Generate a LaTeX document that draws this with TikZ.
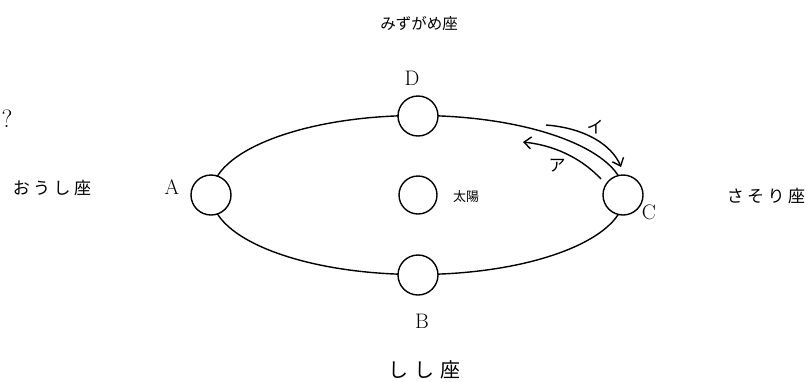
\documentclass[tikz,border=0pt]{standalone}
\usepackage{fontspec}
\newfontfamily\cjk{Noto Sans CJK JP}
\usetikzlibrary{arrows.meta}
\tikzset{
  planet/.style={circle,draw,line width=1.4pt,minimum size=40pt,inner sep=0pt},
  lbl/.style={font=\fontsize{21}{21}\selectfont,inner sep=0pt},
  jp/.style={font=\cjk\fontsize{17}{17}\selectfont,inner sep=0pt},
  motion/.style={line width=1.4pt,-{Straight Barb[length=7pt,width=12pt,line width=1.4pt]}}
}
\begin{document}
\begin{tikzpicture}[x=1pt,y=-1pt]
\useasboundingbox (0,0) rectangle (809,381);
\draw[line width=1.4pt] (418,195) ellipse [x radius=206.5, y radius=79.5];
\node[planet,fill=white] (A) at (211,195) {};
\node[planet,fill=white] (C) at (623,195) {};
\node[planet,fill=white] (D) at (418,116) {};
\node[planet,fill=white] (B) at (418,275) {};
\node[planet,minimum size=38pt] (sun) at (418,195) {};
\node[lbl] (lA) at (172,187) {A};
\node[lbl] (lC) at (649,212) {C};
\node[lbl] (lD) at (412,78) {D};
\node[lbl] (lB) at (422,321) {B};
\node[lbl,font=\fontsize{25}{25}\selectfont] (q) at (7,119) {?};
\node[font=\cjk\fontsize{13}{13}\selectfont,inner sep=0pt] (sunlbl) at (466,197) {太陽};
\node[jp,font=\cjk\fontsize{15.5}{15.5}\selectfont] (aqr) at (419,24) {みずがめ座};
\node[jp] (tau) at (52,188) {お\hspace{3.5pt}う\hspace{3.5pt}し\hspace{3.5pt}座};
\node[jp] (sco) at (766,196) {さ\hspace{3.5pt}そ\hspace{3.5pt}り\hspace{3.5pt}座};
\node[jp,font=\cjk\fontsize{20}{20}\selectfont] (leo) at (424,370) {し\hspace{6pt}し\hspace{6pt}座};
\coordinate (i1) at (546,125);
\coordinate (i2) at (621,167);
\coordinate (a1) at (601,179);
\coordinate (a2) at (523,142);
\draw[motion] (i1) .. controls (585,128) and (612,145) .. (i2);
\draw[motion] (a1) .. controls (585,162) and (560,146) .. (a2);
\node[font=\cjk\fontsize{17}{17}\selectfont,inner sep=0pt] (li) at (595,127) {イ};
\node[font=\cjk\fontsize{17}{17}\selectfont,inner sep=0pt] (la) at (557,166) {ア};
\end{tikzpicture}
\end{document}
